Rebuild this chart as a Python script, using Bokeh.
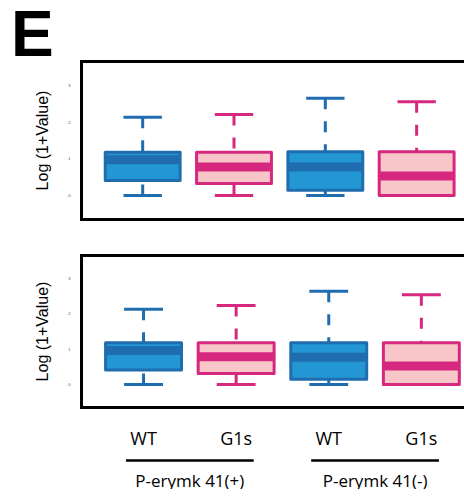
from bokeh.plotting import figure
from bokeh.models import Range1d, FixedTicker, LinearAxis, ColumnDataSource, Div
from bokeh.layouts import column
from bokeh.embed import file_html
from bokeh.resources import INLINE
from bokeh.core.properties import value

# ---------------- data ----------------
panel_letter = "E"
groups = ["P-erymk 41(+)", "P-erymk 41(-)"]
genotypes = ["WT", "G1s", "WT", "G1s"]
positions = [1, 2, 3, 4]
group_members = [[1, 2], [3, 4]]
y_ticks = [0, 1, 2, 3]

# top panel: lower whisker, Q1, median, Q3, upper whisker
top_low = [0.0, 0.0, 0.0, 0.0]
top_q1 = [0.41, 0.33, 0.14, 0.0]
top_med = [0.98, 0.78, 0.78, 0.53]
top_q3 = [1.18, 1.18, 1.20, 1.20]
top_high = [2.14, 2.22, 2.66, 2.57]

# bottom panel
bot_low = [0.0, 0.0, 0.0, 0.0]
bot_q1 = [0.41, 0.31, 0.15, 0.0]
bot_med = [0.96, 0.78, 0.77, 0.52]
bot_q3 = [1.18, 1.18, 1.18, 1.18]
bot_high = [2.12, 2.23, 2.63, 2.53]

fill_colors = {"WT": "#2397D4", "G1s": "#F8C6C8"}
line_colors = {"WT": "#1F6DAE", "G1s": "#D6287F"}

BOX_HALF = 0.41
CAP_HALF = 0.21
W = 464
LEFT = 81


def add_frame_axes(p, with_labels):
    left = LinearAxis(ticker=FixedTicker(ticks=y_ticks), axis_label="Log (1+Value)")
    left.axis_line_width = 3
    left.axis_line_color = "black"
    left.axis_line_cap = "square"
    left.major_tick_line_color = None
    left.minor_tick_line_color = None
    left.major_tick_out = 0
    left.major_tick_in = 0
    left.major_label_standoff = 11
    left.major_label_text_font = "Liberation Sans"
    left.major_label_text_font_size = "4px"
    left.major_label_text_color = "#444444"
    left.axis_label_text_font = "Liberation Sans"
    left.axis_label_text_font_size = "16px"
    left.axis_label_text_font_style = "normal"
    left.axis_label_text_color = "black"
    left.axis_label_standoff = 14
    p.add_layout(left, "left")

    top = LinearAxis(ticker=FixedTicker(ticks=[]))
    top.axis_line_width = 3
    top.axis_line_cap = "square"
    top.major_tick_line_color = None
    top.minor_tick_line_color = None
    top.major_label_text_font_size = "0px"
    p.add_layout(top, "above")

    if with_labels:
        bottom = LinearAxis(ticker=FixedTicker(ticks=positions),
                            major_label_overrides={pos: g for pos, g in zip(positions, genotypes)})
        bottom.major_label_text_font = "Open Sans"
        bottom.major_label_text_font_size = "18px"
        bottom.major_label_text_color = "black"
        bottom.major_label_standoff = 18
    else:
        bottom = LinearAxis(ticker=FixedTicker(ticks=[]))
        bottom.major_label_text_font_size = "0px"
    bottom.axis_line_width = 3
    bottom.axis_line_cap = "square"
    bottom.major_tick_line_color = None
    bottom.minor_tick_line_color = None
    bottom.major_tick_out = 0
    bottom.major_tick_in = 0
    p.add_layout(bottom, "below")


def box_panel(height, min_top, min_bottom, x_start, x_end, y_start, y_end,
              lows, q1s, meds, q3s, highs, with_labels):
    p = figure(width=W, height=height, output_backend="svg", toolbar_location=None,
               x_range=Range1d(x_start, x_end), y_range=Range1d(y_start, y_end),
               min_border_left=LEFT, min_border_right=0,
               min_border_top=min_top, min_border_bottom=min_bottom,
               x_axis_location=None, y_axis_location=None)
    p.grid.visible = False
    p.outline_line_color = None
    p.background_fill_color = "white"
    p.border_fill_color = "white"

    src = ColumnDataSource(dict(
        x=positions,
        low=lows, q1=q1s, med=meds, q3=q3s, high=highs,
        left=[v - BOX_HALF for v in positions],
        right=[v + BOX_HALF for v in positions],
        capl=[v - CAP_HALF for v in positions],
        capr=[v + CAP_HALF for v in positions],
        fill=[fill_colors[g] for g in genotypes],
        line=[line_colors[g] for g in genotypes],
    ))
    # whiskers (dashed, drawn from whisker end towards box)
    p.segment(x0="x", y0="high", x1="x", y1="q3", line_color="line", line_width=3,
              line_dash="11 12", source=src)
    p.segment(x0="x", y0="low", x1="x", y1="q1", line_color="line", line_width=3,
              line_dash="11 12", source=src)
    # caps
    p.segment(x0="capl", y0="high", x1="capr", y1="high", line_color="line", line_width=3, source=src)
    p.segment(x0="capl", y0="low", x1="capr", y1="low", line_color="line", line_width=3, source=src)
    # boxes
    p.quad(left="left", right="right", bottom="q1", top="q3", fill_color="fill",
           line_color="line", line_width=3, line_join="round", source=src)
    # medians
    p.segment(x0="left", y0="med", x1="right", y1="med", line_color="line", line_width=9, source=src)

    add_frame_axes(p, with_labels)
    return p


# header with the panel letter
ph = Div(text=('<div style="margin:0;padding:10px 0 0 11px;'
               'font-family:\'Liberation Sans\',Arial,sans-serif;font-weight:bold;'
               'font-size:64px;line-height:48px;color:black;">' + panel_letter + '</div>'),
         width=W, height=59, margin=0)

pa = box_panel(178, 2, 18, 0.330, 4.524, -0.66, 3.67,
               top_low, top_q1, top_med, top_q3, top_high, False)

pb = box_panel(215, 18, 42, 0.330, 4.466, -0.65, 3.64,
               bot_low, bot_q1, bot_med, bot_q3, bot_high, True)

pc = figure(width=W, height=37, output_backend="svg", toolbar_location=None,
            x_range=pb.x_range, y_range=Range1d(37, 0),
            min_border_left=LEFT, min_border_right=0, min_border_top=0, min_border_bottom=0,
            x_axis_location=None, y_axis_location=None)
pc.grid.visible = False
pc.outline_line_color = None
centers = [sum(m) / len(m) for m in group_members]
spans = [(max(m) - min(m)) / 2 + 0.19 for m in group_members]
pc.segment(x0=[c - s for c, s in zip(centers, spans)], y0=8,
           x1=[c + s for c, s in zip(centers, spans)], y1=8,
           line_color="black", line_width=2.5)
pc.text(x=centers, y=28, text=groups, text_font=value("Open Sans"),
        text_font_size="17px", text_align="center", text_baseline="alphabetic",
        text_color="black")

layout = column(ph, pa, pb, pc, spacing=0)
open("out.html", "w").write(file_html(layout, INLINE))
